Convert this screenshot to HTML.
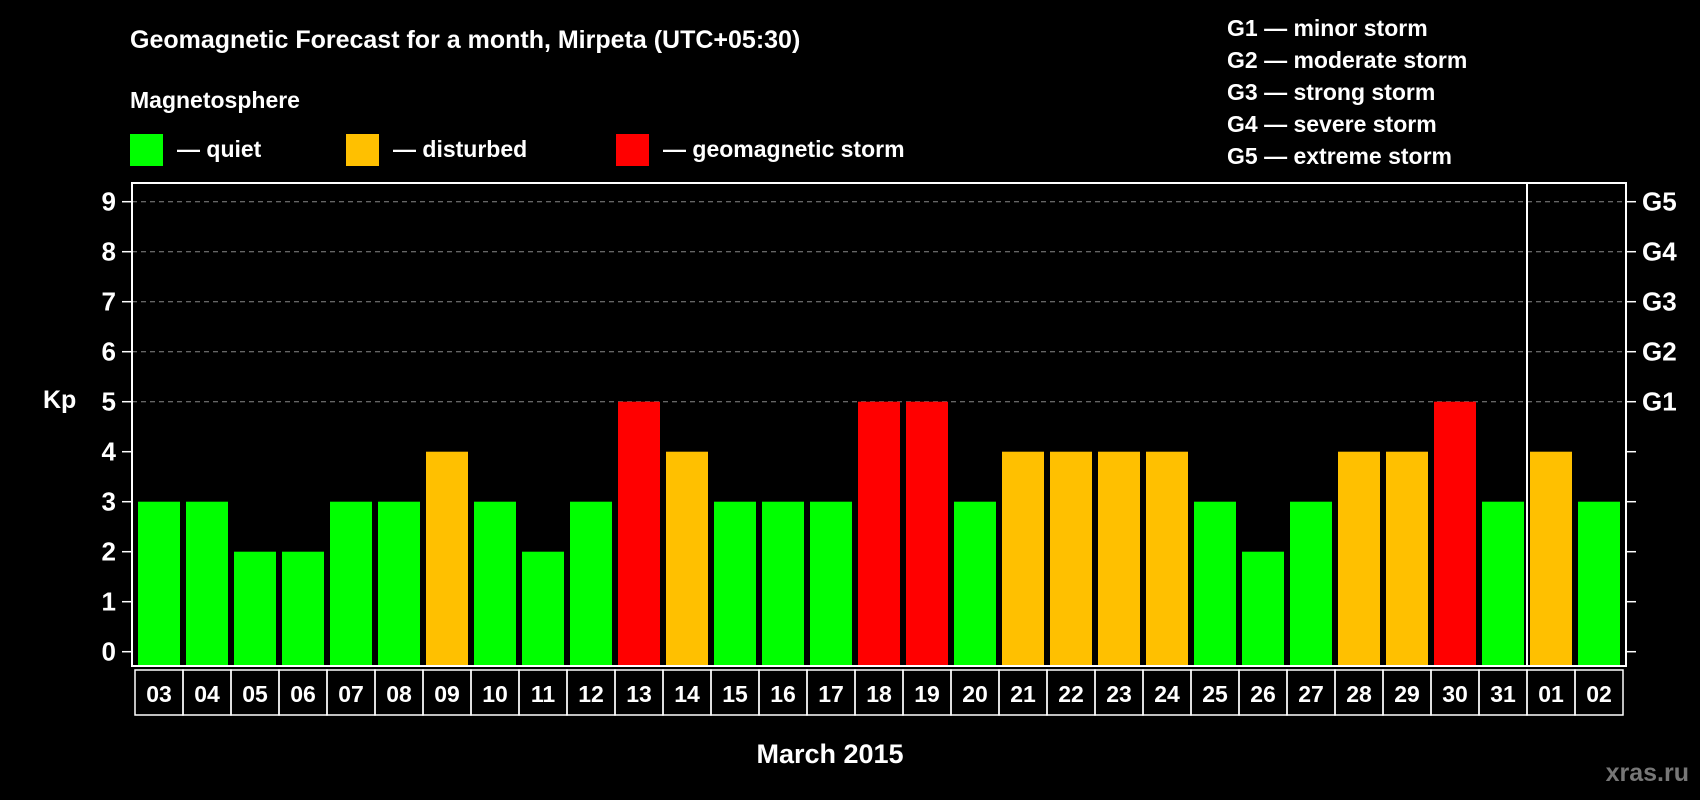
<!DOCTYPE html>
<html><head><meta charset="utf-8"><style>
html,body{margin:0;padding:0;background:#000;width:1700px;height:800px;overflow:hidden}
text{font-family:"Liberation Sans",sans-serif;font-weight:bold;fill:#fff}
</style></head><body>
<svg id="chart" width="1700" height="800" viewBox="0 0 1700 800" xmlns="http://www.w3.org/2000/svg">
<text x="130" y="48" font-size="25">Geomagnetic Forecast for a month, Mirpeta (UTC+05:30)</text>
<text x="130" y="108" font-size="23">Magnetosphere</text>
<rect x="130" y="134" width="33" height="32" fill="#00ff00"/>
<text x="177" y="157" font-size="23">— quiet</text>
<rect x="346" y="134" width="33" height="32" fill="#ffc000"/>
<text x="393" y="157" font-size="23">— disturbed</text>
<rect x="616" y="134" width="33" height="32" fill="#ff0000"/>
<text x="663" y="157" font-size="23">— geomagnetic storm</text>
<g font-size="23">
<text x="1227" y="36">G1 — minor storm</text>
<text x="1227" y="68">G2 — moderate storm</text>
<text x="1227" y="100">G3 — strong storm</text>
<text x="1227" y="132">G4 — severe storm</text>
<text x="1227" y="164">G5 — extreme storm</text>
</g>
<text x="43" y="408" font-size="25">Kp</text>
<text x="830" y="763" font-size="27" text-anchor="middle">March 2015</text>
<text x="1689" y="781" font-size="25" text-anchor="end" style="fill:#777">xras.ru</text>
<g id="grid"></g><g id="bars"></g><g id="axes"></g><g id="xlabels"></g>
</svg>
<script>
const days = ["03","04","05","06","07","08","09","10","11","12","13","14","15","16","17","18","19","20","21","22","23","24","25","26","27","28","29","30","31","01","02"];
const kpValues = [3,3,2,2,3,3,4,3,2,3,5,4,3,3,3,5,5,3,4,4,4,4,3,2,3,4,4,5,3,4,3];
const yTicks = [0,1,2,3,4,5,6,7,8,9];
const gLabels = ["G1","G2","G3","G4","G5"];
const NS = "http://www.w3.org/2000/svg";
const X0 = 138, PITCH = 48, BW = 42, LEFT = 132, RIGHT = 1626, TOP = 183, BOTTOM = 666;
function yScale(v){ return 651.7 - 50 * v; }
function xScale(i){ return X0 + i * PITCH; }
function mk(tag, attrs, parent){ const e = document.createElementNS(NS, tag); for (const k in attrs) e.setAttribute(k, attrs[k]); parent.appendChild(e); return e; }
const grid = document.getElementById('grid'), bars = document.getElementById('bars'), axes = document.getElementById('axes'), xl = document.getElementById('xlabels');
yTicks.forEach(v => {
  const y = yScale(v);
  if (v >= 5) {
    const l = mk('line', {x1: LEFT, x2: RIGHT, y1: y, y2: y, stroke: '#888', 'stroke-width': 1, 'stroke-dasharray': '5,4'}, grid);
    
    
  }
  const t1 = mk('line', {x1: LEFT - 10, x2: LEFT, y1: y, y2: y, stroke: '#fff', 'stroke-width': 1.5}, axes);
  
  
  const t2 = mk('line', {x1: RIGHT, x2: RIGHT + 10, y1: y, y2: y, stroke: '#fff', 'stroke-width': 1.5}, axes);
  
  
  const tx = mk('text', {x: 116, y: y + 9, 'font-size': 26, 'text-anchor': 'end'}, axes);
  tx.textContent = v;
  
  
});
gLabels.forEach((g, i) => {
  const tx = mk('text', {x: 1642, y: yScale(5 + i) + 9, 'font-size': 26}, axes);
  tx.textContent = g;
  
  
});
kpValues.forEach((v, i) => {
  const col = v >= 5 ? '#ff0000' : (v >= 4 ? '#ffc000' : '#00ff00');
  const r = mk('rect', {x: xScale(i), y: yScale(v), width: BW, height: BOTTOM - yScale(v) - 1, fill: col}, bars);
  
  
  const b = mk('rect', {x: xScale(i) - 3, y: 670, width: PITCH, height: 45, fill: 'none', stroke: '#fff', 'stroke-width': 1.5}, xl);
  
  
  const t = mk('text', {x: xScale(i) + BW / 2, y: 702, 'font-size': 23, 'text-anchor': 'middle'}, xl);
  t.textContent = days[i];
  
  
});
const frame = mk('rect', {x: LEFT, y: TOP, width: RIGHT - LEFT, height: BOTTOM - TOP, fill: 'none', stroke: '#fff', 'stroke-width': 2}, axes);


const sepX = xScale(days.indexOf('01')) - 3;
const sep = mk('line', {x1: sepX, x2: sepX, y1: TOP, y2: BOTTOM, stroke: '#fff', 'stroke-width': 2}, axes);


</script>
</body></html>
